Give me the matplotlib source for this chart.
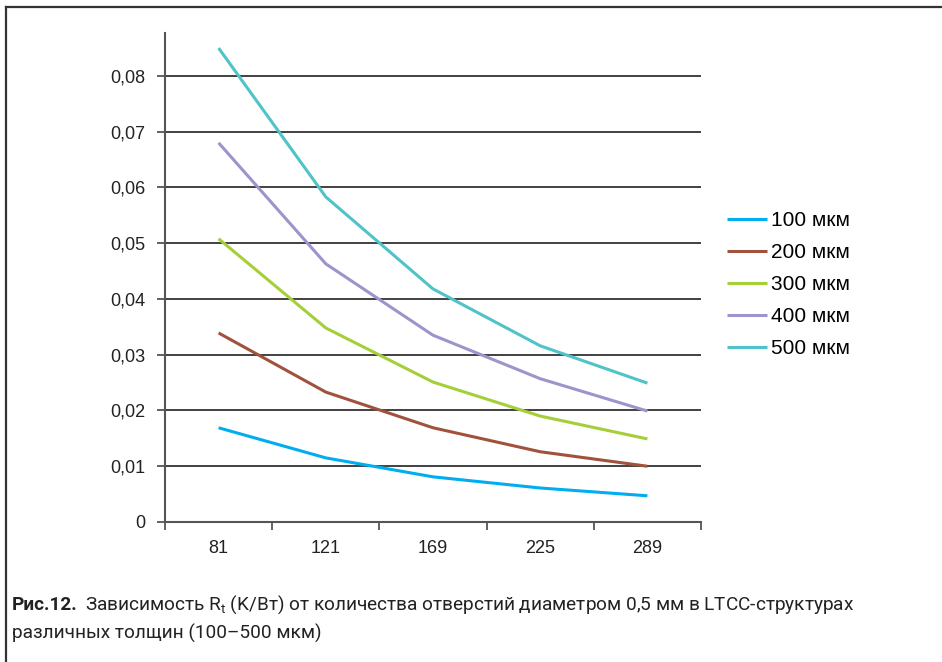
import matplotlib
matplotlib.use("Agg")
import matplotlib.pyplot as plt
from matplotlib.lines import Line2D

# hole counts on the x axis
holes = ["81", "121", "169", "225", "289"]

# Rt (K/W) for each LTCC thickness
rt_100 = [0.0169, 0.0115, 0.0081, 0.0061, 0.0047]
rt_200 = [0.0339, 0.0233, 0.0169, 0.0126, 0.0100]
rt_300 = [0.0508, 0.0348, 0.0251, 0.0190, 0.0149]
rt_400 = [0.0680, 0.0463, 0.0335, 0.0257, 0.0199]
rt_500 = [0.0850, 0.0583, 0.0418, 0.0316, 0.0249]

series_labels = ["100 мкм", "200 мкм", "300 мкм", "400 мкм", "500 мкм"]
colors = ["#00aeef", "#a0523d", "#a6ce39", "#9d94cc", "#4fc3c8"]
yticks = [0, 0.01, 0.02, 0.03, 0.04, 0.05, 0.06, 0.07, 0.08]

plt.rcParams['font.family'] = ['Liberation Sans', 'DejaVu Sans']

fig = plt.figure(figsize=(9.42, 6.62), dpi=100)
ax = fig.add_axes([165 / 942, 1 - 522 / 662, 536 / 942, 489 / 662])

x = list(range(len(holes)))
for vals, lab, c in zip([rt_100, rt_200, rt_300, rt_400, rt_500], series_labels, colors):
    ax.plot(x, vals, color=c, lw=2.2, label=lab, solid_capstyle='butt')

ax.set_xlim(-0.5, len(holes) - 0.5)
ax.set_ylim(0, 0.0877)
ax.set_xticks(x)
ax.set_xticklabels(holes, fontsize=13, color='#222222')
ax.set_xticks([i - 0.5 for i in range(len(holes) + 1)], minor=True)
ax.tick_params(axis='x', which='major', length=0, pad=13)
ax.tick_params(axis='x', which='minor', length=6, width=1.3, color='#555555', direction='out')
ax.set_yticks(yticks)
ax.set_yticklabels(["0"] + [f"{v:.2f}".replace('.', ',') for v in yticks[1:]],
                   fontsize=13, color='#222222')
ax.tick_params(axis='y', length=6, width=1.3, color='#555555', pad=8)

for v in yticks[1:]:
    ax.axhline(v, color='#333333', lw=1.3, zorder=0)

for s in ['top', 'right']:
    ax.spines[s].set_visible(False)
for s in ['left', 'bottom']:
    ax.spines[s].set_color('#555555')
    ax.spines[s].set_linewidth(1.5)

ax.legend(loc='center left', bbox_to_anchor=(727 / 942, 1 - 284.5 / 662),
          bbox_transform=fig.transFigure, frameon=False, fontsize=15,
          handlelength=1.9, handletextpad=0.2, labelspacing=0.62,
          borderpad=0, borderaxespad=0)

# frame around the figure (top and left edges only are visible)
fig.add_artist(Line2D([6 / 942, 1], [1 - 7 / 662] * 2, transform=fig.transFigure,
                      color='#333333', lw=1.6))
fig.add_artist(Line2D([6 / 942] * 2, [0, 1 - 7 / 662], transform=fig.transFigure,
                      color='#333333', lw=1.6))

# caption: narrow sans, size chosen so the first line spans about 846 px
cap_font = ['Roboto', 'DejaVu Sans']
cap1 = "Зависимость R$_\\mathregular{t}$ (K/Вт) от количества отверстий диаметром 0,5 мм в LTCC-структурах"
cap2 = "различных толщин (100–500 мкм)"
fs = 14
t1 = fig.text(12 / 942, 1 - 605 / 662, "Рис.12.", fontsize=fs, fontweight='bold',
              family=cap_font, va='center', color='#222222')
t2 = fig.text(0, 1 - 605 / 662, cap1, fontsize=fs, family=cap_font, va='center', color='#222222')
fig.canvas.draw()
r = fig.canvas.get_renderer()
w = t1.get_window_extent(r).width + 7 + t2.get_window_extent(r).width
fs = fs * 846 / w
t1.set_fontsize(fs)
t2.set_fontsize(fs)
fig.canvas.draw()
bb = t1.get_window_extent(r)
t2.set_x((bb.x1 + 7) / 942)
fig.text(12 / 942, 1 - 633 / 662, cap2, fontsize=fs, family=cap_font, va='center', color='#222222')

fig.savefig("out.png", dpi=100)
